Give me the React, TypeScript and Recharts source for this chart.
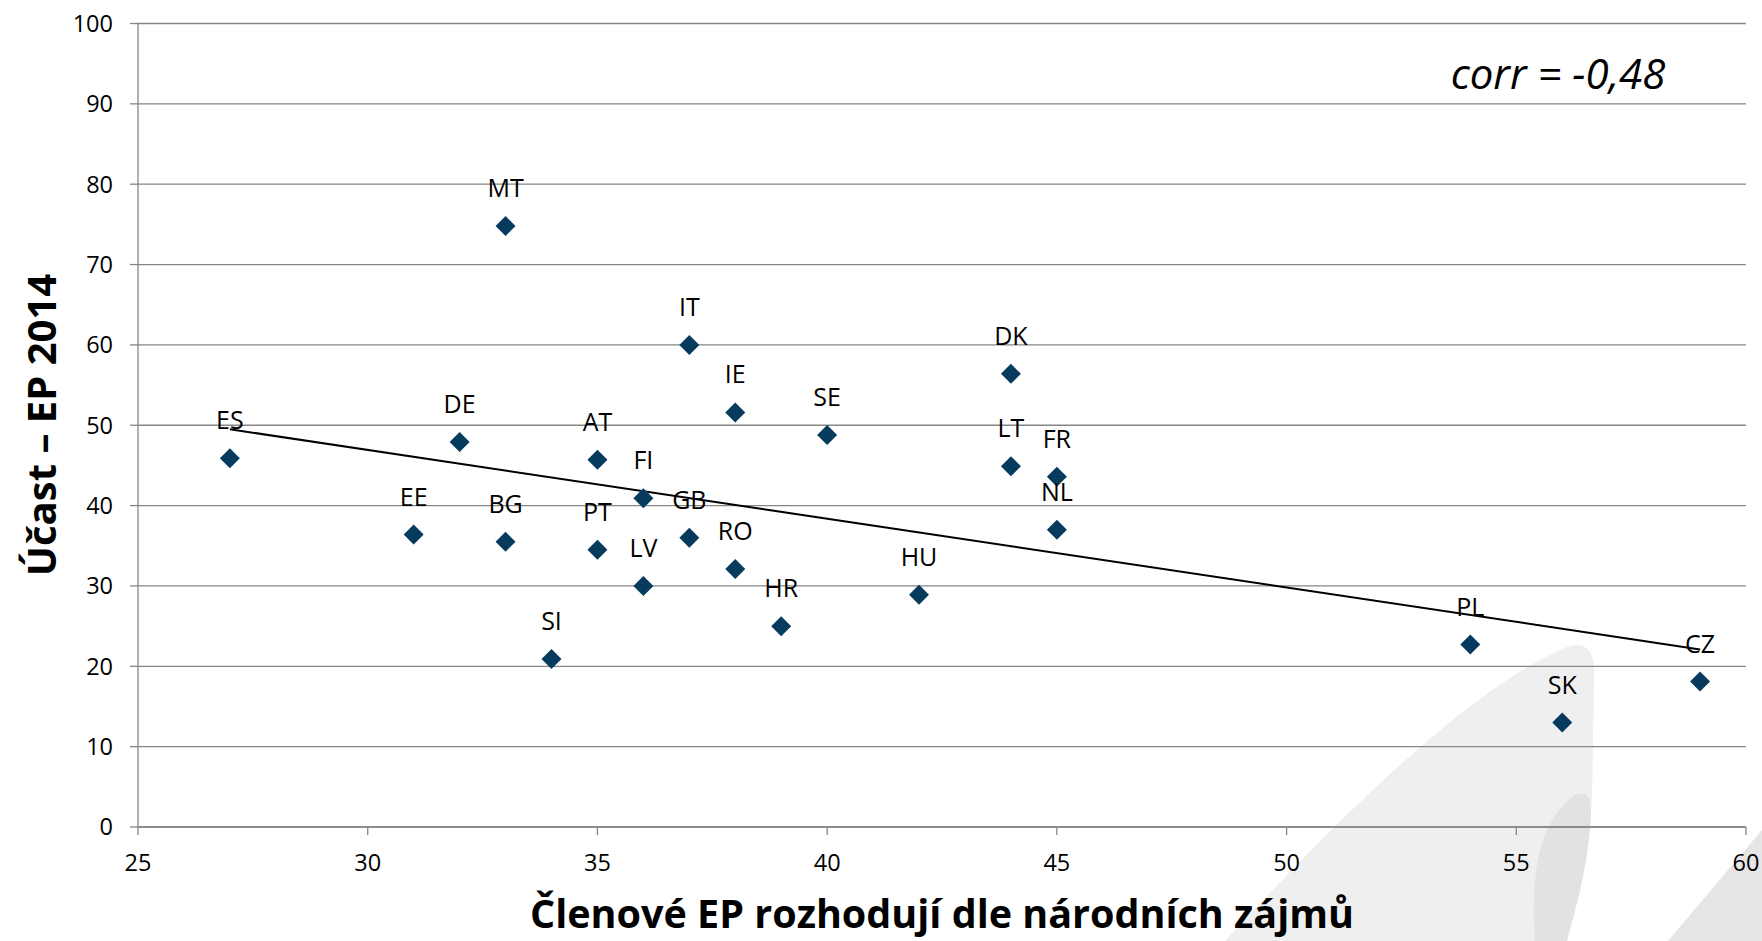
import React from "react";
import { ScatterChart, Scatter, XAxis, YAxis, CartesianGrid, ReferenceLine } from "recharts";

// country codes, share saying MEPs decide by national interest, turnout EP 2014
const countries = ["ES", "EE", "DE", "BG", "MT", "SI", "AT", "PT", "FI", "LV", "IT", "GB", "IE", "RO", "HR", "SE", "HU", "DK", "LT", "FR", "NL", "PL", "SK", "CZ"];
const nationalInterest = [27, 31, 32, 33, 33, 34, 35, 35, 36, 36, 37, 37, 38, 38, 39, 40, 42, 44, 44, 45, 45, 54, 56, 59];
const turnout = [45.9, 36.4, 47.9, 35.5, 74.8, 20.9, 45.7, 34.5, 40.9, 30.0, 60.0, 36.0, 51.6, 32.1, 25.0, 48.8, 28.9, 56.4, 44.9, 43.6, 37.0, 22.7, 13.0, 18.1];

// linear trend end points as drawn
const trendX = [27, 59];
const trendY = [49.5, 22.1];

const xTicks = [25, 30, 35, 40, 45, 50, 55, 60];
const yTicks = [0, 10, 20, 30, 40, 50, 60, 70, 80, 90, 100];

const data = countries.map((name, i) => ({ name, x: nationalInterest[i], y: turnout[i] }));

const FONT = "'Open Sans', sans-serif";
const GRID = "#868686";

const Diamond = (props: any) => {
  const { cx, cy, payload } = props;
  const r = 10;
  return (
    <g>
      <path d={`M${cx},${cy - r}L${cx + r},${cy}L${cx},${cy + r}L${cx - r},${cy}Z`} fill="#073B5E" />
      <text x={cx} y={cy - 29} textAnchor="middle" fontSize={25} fill="#000" fontFamily={FONT}>
        {payload.name}
      </text>
    </g>
  );
};

export default function App() {
  const width = 1762;
  const height = 941;

  return (
    <div style={{ position: "absolute", left: 0, top: 0, width, height, background: "#fff", fontFamily: FONT }}>
      {/* watermark swoosh behind the chart */}
      <svg width={width} height={height} style={{ position: "absolute", left: 0, top: 0 }}>
        <path d="M1225,941 C1300,860 1450,700 1560,650 Q1597,632 1594,680 L1592,800 C1585,860 1575,900 1567,941 Z" fill="#f0efef" />
        <path d="M1535,941 C1530,870 1540,820 1575,795 Q1592,788 1591,815 C1588,870 1575,910 1567,941 Z" fill="#e3e1e1" />
        <path d="M1668,941 L1762,830 L1762,941 Z" fill="#e6e4e4" />
      </svg>

      <ScatterChart
        width={width}
        height={height}
        margin={{ top: 23.5, right: 16, bottom: 0, left: 0 }}
        style={{ position: "absolute", left: 0, top: 0 }}
      >
        <CartesianGrid vertical={false} stroke={GRID} strokeWidth={1.3} />
        <XAxis
          type="number"
          dataKey="x"
          domain={[25, 60]}
          ticks={xTicks}
          height={114}
          tickSize={8}
          tickMargin={19}
          stroke={GRID}
          strokeWidth={1.3}
          tick={{ fill: "#000", fontSize: 23.5, fontFamily: FONT }}
        />
        <YAxis
          type="number"
          dataKey="y"
          domain={[0, 100]}
          ticks={yTicks}
          width={138}
          tickSize={8}
          tickMargin={17}
          stroke={GRID}
          strokeWidth={1.3}
          tick={{ fill: "#000", fontSize: 23.5, fontFamily: FONT }}
        />
        <Scatter data={data} shape={Diamond} isAnimationActive={false} />
        <ReferenceLine
          segment={[
            { x: trendX[0], y: trendY[0] },
            { x: trendX[1], y: trendY[1] },
          ]}
          stroke="#000"
          strokeWidth={2}
          ifOverflow="visible"
        />
      </ScatterChart>

      {/* titles and correlation note */}
      <svg width={width} height={height} style={{ position: "absolute", left: 0, top: 0, pointerEvents: "none" }}>
        <text x={1558} y={89} textAnchor="middle" fontSize={42} fontStyle="italic" fontFamily={FONT} fill="#000">
          corr = -0,48
        </text>
        <text x={942} y={928} textAnchor="middle" fontSize={39.5} fontWeight="bold" fontFamily={FONT} fill="#000">
          Členové EP rozhodují dle národních zájmů
        </text>
        <text
          x={56}
          y={425}
          textAnchor="middle"
          fontSize={40}
          fontWeight="bold"
          fontFamily={FONT}
          fill="#000"
          transform="rotate(-90 56 425)"
        >
          Účast – EP 2014
        </text>
      </svg>
    </div>
  );
}
